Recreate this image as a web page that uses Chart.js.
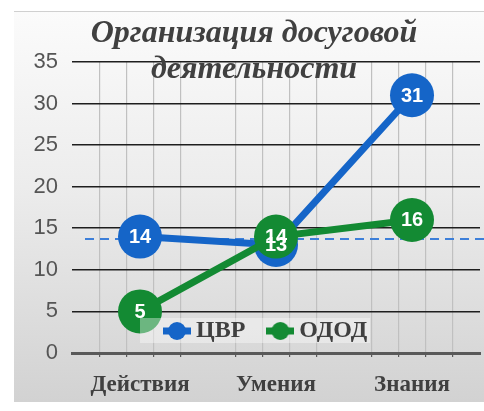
<!DOCTYPE html>
<html lang="ru">
<head>
<meta charset="utf-8">
<script src="https://cdn.jsdelivr.net/npm/chart.js@4/dist/chart.umd.min.js"></script>
<style>
  html, body { margin: 0; padding: 0; background: #fff; }
  #frame {
    position: absolute; left: 14px; top: 11px; width: 470px; height: 391px;
    background: linear-gradient(#fbfbfb 0%, #ececec 45%, #d2d2d2 100%);
    border-top: 1px solid #d0d0d0;
    box-sizing: border-box;
  }
  #frame canvas { position: absolute; left: 0; top: 0; }
</style>
</head>
<body>
<div id="frame"><canvas id="lineChart" width="470" height="391"></canvas></div>
<script>
'use strict';

// данные
const categories = ['Действия', 'Умения', 'Знания'];
const cvrValues = [14, 13, 31];
const ododValues = [5, 14, 16];
const seriesNames = ['ЦВР', 'ОДОД'];
const titleLines = ['Организация досуговой', 'деятельности'];
const yTicks = [0, 5, 10, 15, 20, 25, 30, 35];
const refLineValue = 13.7;

const BLUE = '#1565c8';
const GREEN = '#138a33';
const TEXT = '#404040';

// значок легенды: линия с кружком
function legendIcon(color) {
  const c = document.createElement('canvas');
  c.width = 28; c.height = 20;
  const g = c.getContext('2d');
  g.strokeStyle = color; g.lineWidth = 7;
  g.beginPath(); g.moveTo(0, 10); g.lineTo(28, 10); g.stroke();
  g.fillStyle = color;
  g.beginPath(); g.arc(14, 10, 9, 0, Math.PI * 2); g.fill();
  return c;
}

// подписи значений в кружках
const pointLabels = {
  id: 'pointLabels',
  afterDatasetsDraw(chart) {
    const ctx = chart.ctx;
    ctx.save();
    ctx.font = 'bold 20px "Liberation Sans", Arial, sans-serif';
    ctx.fillStyle = '#fff';
    ctx.textAlign = 'center';
    ctx.textBaseline = 'middle';
    chart.data.datasets.forEach(function(ds, i) {
      chart.getDatasetMeta(i).data.forEach(function(pt, j) {
        ctx.fillText(String(ds.data[j]), pt.x, pt.y + 1);
      });
    });
    ctx.restore();
  }
};

// пунктирная линия
const refLine = {
  id: 'refLine',
  beforeDatasetsDraw(chart) {
    const ctx = chart.ctx;
    const y = chart.scales.y.getPixelForValue(refLineValue);
    ctx.save();
    ctx.strokeStyle = '#3d7fd9';
    ctx.lineWidth = 2;
    ctx.setLineDash([9, 6]);
    ctx.beginPath();
    ctx.moveTo(chart.chartArea.left + 13, y);
    ctx.lineTo(chart.width, y);
    ctx.stroke();
    ctx.restore();
  }
};

// легенда поверх графика
const legendBox = { left: 126, top: 306, width: 230, height: 25 };
const legendOverlay = {
  id: 'legendOverlay',
  beforeLayout(chart) {
    const lg = chart.legend;
    if (!lg || lg._overlay) return;
    lg._overlay = true;
    const fit = lg.fit;
    lg.fit = function() { fit.call(this); this.height = 0; };
    lg._layers = function() {
      return [{ z: 1, draw: function(area) {
        const ctx = chart.ctx;
        ctx.save();
        ctx.fillStyle = 'rgba(255,255,255,0.38)';
        ctx.fillRect(legendBox.left, legendBox.top, legendBox.width, legendBox.height);
        ctx.restore();
        lg.draw(area);
      } }];
    };
  },
  afterLayout(chart) {
    const lg = chart.legend;
    lg.left = legendBox.left + 2;
    lg.right = chart.width;
    lg.top = legendBox.top - 27;
    lg.bottom = lg.top + 80;
  }
};

new Chart(document.querySelector('#lineChart').getContext('2d'), {
  type: 'line',
  data: {
    labels: categories,
    datasets: [{
      label: seriesNames[0],
      data: cvrValues,
      borderColor: BLUE,
      backgroundColor: BLUE,
      borderWidth: 7,
      pointRadius: 22,
      pointHoverRadius: 22,
      pointBorderWidth: 0,
      order: 1
    }, {
      label: seriesNames[1],
      data: ododValues,
      borderColor: GREEN,
      backgroundColor: GREEN,
      borderWidth: 7,
      pointRadius: 22,
      pointHoverRadius: 22,
      pointBorderWidth: 0,
      order: 0
    }]
  },
  options: {
    responsive: false,
    animation: false,
    layout: { autoPadding: false, padding: { left: 14, right: 4, top: 0, bottom: 0 } },
    plugins: {
      title: {
        display: true,
        text: titleLines,
        color: TEXT,
        font: { family: '"Liberation Serif", "Times New Roman", serif', size: 32, style: 'italic', weight: 'bold', lineHeight: 1.14 },
        padding: { top: 3, bottom: -26 }
      },
      legend: {
        position: 'bottom',
        align: 'start',
        labels: {
          color: TEXT,
          font: { family: '"Liberation Serif", "Times New Roman", serif', size: 24, weight: 'bold' },
          usePointStyle: true,
          pointStyleWidth: 14,
          padding: 28,
          generateLabels(chart) {
            return chart.data.datasets.map(function(ds, i) {
              return {
                text: ds.label,
                fontColor: TEXT,
                pointStyle: legendIcon(ds.borderColor),
                fillStyle: ds.borderColor,
                strokeStyle: ds.borderColor,
                lineWidth: 0,
                hidden: false,
                datasetIndex: i
              };
            });
          }
        }
      },
      tooltip: { enabled: false }
    },
    scales: {
      x: {
        type: 'category',
        offset: true,
        grid: { display: false, drawTicks: false },
        border: { display: true, color: '#595959', width: 3 },
        ticks: {
          color: TEXT,
          padding: 18,
          font: { family: '"Liberation Serif", "Times New Roman", serif', size: 23, weight: 'bold' }
        },
        afterFit(scale) { scale.height = 50; }
      },
      x2: {
        type: 'linear',
        position: 'bottom',
        weight: -10,
        min: 0,
        max: categories.length * 5,
        ticks: { display: false, stepSize: 1 },
        grid: {
          color: function(c) { return c.tick.value % 5 === 0 ? 'rgba(0,0,0,0)' : '#c0c0c0'; },
          tickColor: function(c) { return c.tick.value % 5 === 0 ? 'rgba(0,0,0,0)' : '#595959'; },
          lineWidth: 1.2,
          drawTicks: true,
          tickLength: 4
        },
        border: { display: false },
        afterFit(scale) { scale.height = 0; }
      },
      y: {
        min: yTicks[0],
        max: yTicks[yTicks.length - 1],
        afterBuildTicks(scale) { scale.ticks = yTicks.map(function(v) { return { value: v }; }); },
        grid: {
          color: function(c) { return c.tick.value === 0 ? 'rgba(0,0,0,0)' : '#1e1e1e'; },
          lineWidth: 1.6,
          drawTicks: false
        },
        border: { display: false },
        ticks: {
          color: '#555555',
          padding: 14,
          font: { family: '"Liberation Sans", Arial, sans-serif', size: 22 }
        },
        afterFit(scale) { scale.width = 44; }
      }
    }
  },
  plugins: [refLine, pointLabels, legendOverlay]
});
</script>
</body>
</html>
